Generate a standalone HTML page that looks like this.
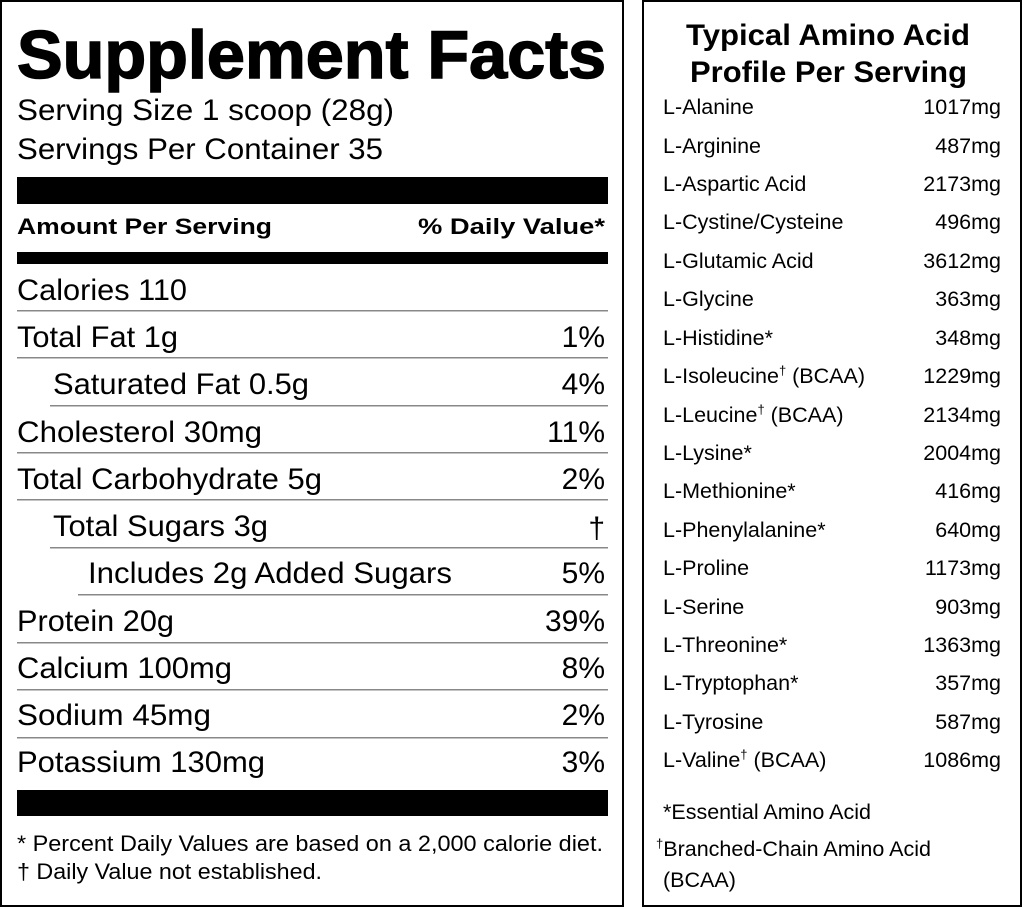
<!DOCTYPE html>
<html><head><meta charset="utf-8"><style>
html,body{margin:0;padding:0;background:#fff;}
svg{display:block;}
text{font-family:"Liberation Sans",Arial,sans-serif;fill:#000;}
</style></head><body>
<svg width="1024" height="909" viewBox="0 0 1024 909" xmlns="http://www.w3.org/2000/svg">
<rect x="0" y="0" width="1024" height="909" fill="#fff"/>
<rect x="1" y="1" width="622" height="905" fill="none" stroke="#000" stroke-width="2"/>
<rect x="643" y="1" width="378" height="905" fill="none" stroke="#000" stroke-width="2"/>

<text x="17" y="78" font-size="68" font-weight="bold" stroke="#000" stroke-width="1.5" textLength="589" lengthAdjust="spacingAndGlyphs">Supplement Facts</text>
<text x="17" y="120" font-size="30" textLength="377" lengthAdjust="spacingAndGlyphs">Serving Size 1 scoop (28g)</text>
<text x="17" y="159" font-size="30" textLength="366" lengthAdjust="spacingAndGlyphs">Servings Per Container 35</text>
<rect x="17" y="177" width="591" height="27" fill="#000"/>
<text x="17" y="234" font-size="22" font-weight="bold" textLength="255" lengthAdjust="spacingAndGlyphs">Amount Per Serving</text>
<text x="418" y="234" font-size="22" font-weight="bold" textLength="187" lengthAdjust="spacingAndGlyphs">% Daily Value*</text>
<rect x="17" y="252" width="591" height="12" fill="#000"/>

<g font-size="30">
<text x="17" y="300" textLength="170" lengthAdjust="spacingAndGlyphs">Calories 110</text>
<text x="17" y="347" textLength="161" lengthAdjust="spacingAndGlyphs">Total Fat 1g</text>
<text x="53" y="394" textLength="256" lengthAdjust="spacingAndGlyphs">Saturated Fat 0.5g</text>
<text x="17" y="442" textLength="245" lengthAdjust="spacingAndGlyphs">Cholesterol 30mg</text>
<text x="17" y="489" textLength="305" lengthAdjust="spacingAndGlyphs">Total Carbohydrate 5g</text>
<text x="53" y="536" textLength="215" lengthAdjust="spacingAndGlyphs">Total Sugars 3g</text>
<text x="88" y="583" textLength="364" lengthAdjust="spacingAndGlyphs">Includes 2g Added Sugars</text>
<text x="17" y="631" textLength="157" lengthAdjust="spacingAndGlyphs">Protein 20g</text>
<text x="17" y="678" textLength="215" lengthAdjust="spacingAndGlyphs">Calcium 100mg</text>
<text x="17" y="725" textLength="194" lengthAdjust="spacingAndGlyphs">Sodium 45mg</text>
<text x="17" y="772" textLength="248" lengthAdjust="spacingAndGlyphs">Potassium 130mg</text>
</g>
<g font-size="30" text-anchor="end">
<text x="605" y="347">1%</text>
<text x="605" y="394">4%</text>
<text x="605" y="442">11%</text>
<text x="605" y="489">2%</text>
<text x="605" y="538">†</text>
<text x="605" y="583">5%</text>
<text x="605" y="631">39%</text>
<text x="605" y="678">8%</text>
<text x="605" y="725">2%</text>
<text x="605" y="772">3%</text>
</g>
<g fill="#888">
<rect x="17" y="310" width="591" height="1.5"/>
<rect x="17" y="357" width="591" height="1.5"/>
<rect x="50" y="405" width="558" height="1.5"/>
<rect x="17" y="452" width="591" height="1.5"/>
<rect x="17" y="499" width="591" height="1.5"/>
<rect x="50" y="547" width="558" height="1.5"/>
<rect x="78" y="594" width="530" height="1.5"/>
<rect x="17" y="642" width="591" height="1.5"/>
<rect x="17" y="689" width="591" height="1.5"/>
<rect x="17" y="737" width="591" height="1.5"/>
</g>
<rect x="17" y="790" width="591" height="26" fill="#000"/>
<text x="17" y="851" font-size="22" textLength="586" lengthAdjust="spacingAndGlyphs">* Percent Daily Values are based on a 2,000 calorie diet.</text>
<text x="17" y="879" font-size="22" textLength="305" lengthAdjust="spacingAndGlyphs">† Daily Value not established.</text>

<text x="686" y="45" font-size="30" font-weight="bold" textLength="284" lengthAdjust="spacingAndGlyphs">Typical Amino Acid</text>
<text x="690" y="82" font-size="30" font-weight="bold" textLength="277" lengthAdjust="spacingAndGlyphs">Profile Per Serving</text>
<g font-size="21.5">
<text x="663" y="114">L-Alanine</text>
<text x="663" y="153">L-Arginine</text>
<text x="663" y="191">L-Aspartic Acid</text>
<text x="663" y="229">L-Cystine/Cysteine</text>
<text x="663" y="268">L-Glutamic Acid</text>
<text x="663" y="306">L-Glycine</text>
<text x="663" y="345">L-Histidine*</text>
<text x="663" y="383">L-Isoleucine<tspan font-size="13" dy="-8">†</tspan><tspan dy="8"> (BCAA)</tspan></text>
<text x="663" y="422">L-Leucine<tspan font-size="13" dy="-8">†</tspan><tspan dy="8"> (BCAA)</tspan></text>
<text x="663" y="460">L-Lysine*</text>
<text x="663" y="498">L-Methionine*</text>
<text x="663" y="537">L-Phenylalanine*</text>
<text x="663" y="575">L-Proline</text>
<text x="663" y="614">L-Serine</text>
<text x="663" y="652">L-Threonine*</text>
<text x="663" y="690">L-Tryptophan*</text>
<text x="663" y="729">L-Tyrosine</text>
<text x="663" y="767">L-Valine<tspan font-size="13" dy="-8">†</tspan><tspan dy="8"> (BCAA)</tspan></text>
</g>
<g font-size="21.5" text-anchor="end">
<text x="1001" y="114">1017mg</text>
<text x="1001" y="153">487mg</text>
<text x="1001" y="191">2173mg</text>
<text x="1001" y="229">496mg</text>
<text x="1001" y="268">3612mg</text>
<text x="1001" y="306">363mg</text>
<text x="1001" y="345">348mg</text>
<text x="1001" y="383">1229mg</text>
<text x="1001" y="422">2134mg</text>
<text x="1001" y="460">2004mg</text>
<text x="1001" y="498">416mg</text>
<text x="1001" y="537">640mg</text>
<text x="1001" y="575">1173mg</text>
<text x="1001" y="614">903mg</text>
<text x="1001" y="652">1363mg</text>
<text x="1001" y="690">357mg</text>
<text x="1001" y="729">587mg</text>
<text x="1001" y="767">1086mg</text>
</g>
<text x="663" y="819" font-size="21.5">*Essential Amino Acid</text>
<text x="656" y="856" font-size="21.5"><tspan font-size="13" dy="-8">†</tspan><tspan dy="8">Branched-Chain Amino Acid</tspan></text>
<text x="663" y="887" font-size="21.5">(BCAA)</text>
</svg>
</body></html>
